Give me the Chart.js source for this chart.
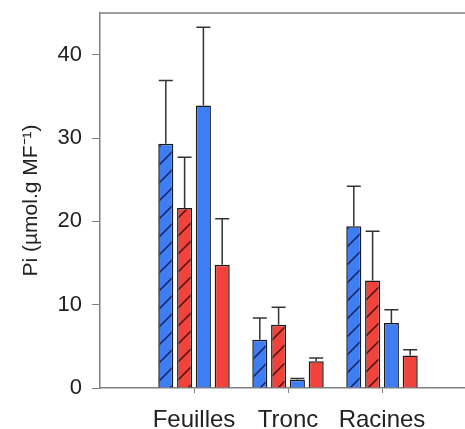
<!DOCTYPE html>
<html>
<head>
<meta charset="utf-8">
<script src="https://cdn.jsdelivr.net/npm/chart.js@4/dist/chart.umd.min.js"></script>
<style>
    html, body { margin: 0; padding: 0; background: #fff; overflow: hidden; }
    #wrap { width: 480px; height: 429px; }
</style>
</head>
<body>
<div id="wrap"><canvas id="grafico" width="480" height="429"></canvas></div>
<script>
const categories = ['Feuilles', 'Tronc', 'Racines'];

// moyennes et erreurs (barre du haut seulement)
const bleuHachure = [29.3, 5.8, 19.4];
const bleuHachureErr = [7.6, 2.6, 4.8];
const rougeHachure = [21.6, 7.6, 12.9];
const rougeHachureErr = [6.1, 2.1, 5.9];
const bleuPlein = [33.9, 1.0, 7.8];
const bleuPleinErr = [9.4, 0.15, 1.6];
const rougePlein = [14.8, 3.2, 3.9];
const rougePleinErr = [5.5, 0.4, 0.7];

const yTicks = [0, 10, 20, 30, 40];

const BLEU = '#3f7ef2';
const ROUGE = '#f2423c';
const fonte = '"Liberation Sans", Arial, sans-serif';

function hachures(fond, trait) {
    const size = 18;
    const c = document.createElement('canvas');
    c.width = size;
    c.height = size;
    const g = c.getContext('2d');
    g.fillStyle = fond;
    g.fillRect(0, 0, size, size);
    g.strokeStyle = trait;
    g.lineWidth = 1.5;
    g.beginPath();
    g.moveTo(-2, size + 2);
    g.lineTo(size + 2, -2);
    g.moveTo(-2, 2);
    g.lineTo(2, -2);
    g.moveTo(size - 2, size + 2);
    g.lineTo(size + 2, size - 2);
    g.stroke();
    return g.createPattern(c, 'repeat');
}

// une categorie vide de chaque cote pour garder la meme echelle que l'original
const labels = [''].concat(categories).concat(['']);
function pad(arr) {
    return [null].concat(arr).concat([null]);
}

const series = [
    { data: bleuHachure, err: bleuHachureErr, bg: hachures(BLEU, '#15205a') },
    { data: rougeHachure, err: rougeHachureErr, bg: hachures(ROUGE, '#4a0f0f') },
    { data: bleuPlein, err: bleuPleinErr, bg: BLEU },
    { data: rougePlein, err: rougePleinErr, bg: ROUGE }
];

const barresErreur = {
    id: 'barresErreur',
    afterDatasetsDraw(chart) {
        const ctx = chart.ctx;
        const yScale = chart.scales.y;
        ctx.save();
        ctx.strokeStyle = '#333';
        ctx.lineWidth = 1.5;
        chart.data.datasets.forEach((ds, i) => {
            const meta = chart.getDatasetMeta(i);
            meta.data.forEach((bar, j) => {
                const v = ds.data[j];
                if (v === null) return;
                const e = ds.erreurs[j];
                const yTop = yScale.getPixelForValue(v + e);
                ctx.beginPath();
                ctx.moveTo(bar.x, bar.y);
                ctx.lineTo(bar.x, yTop);
                ctx.moveTo(bar.x - 7, yTop);
                ctx.lineTo(bar.x + 7, yTop);
                ctx.stroke();
            });
        });
        // ligne du haut du cadre
        const a = chart.chartArea;
        ctx.strokeStyle = '#808080';
        ctx.beginPath();
        ctx.moveTo(a.left, a.top);
        ctx.lineTo(a.right, a.top);
        ctx.stroke();
        ctx.restore();
    }
};

const ctx = document.getElementById('grafico').getContext('2d');
const chart = new Chart(ctx, {
    type: 'bar',
    data: {
        labels: labels,
        datasets: series.map(s => ({
            data: pad(s.data),
            erreurs: pad(s.err),
            backgroundColor: s.bg,
            borderColor: '#1a1a1a',
            borderWidth: 1.5,
            barPercentage: 0.8,
            categoryPercentage: 0.8
        }))
    },
    options: {
        responsive: false,
        animation: false,
        layout: { padding: { top: 13, right: 4, left: 0, bottom: 0 } },
        plugins: {
            legend: { display: false },
            tooltip: { enabled: false }
        },
        scales: {
            x: {
                offset: false,
                grid: {
                    offset: false,
                    drawOnChartArea: false,
                    drawTicks: true,
                    tickLength: 5,
                    color: c => (c.index >= 1 && c.index <= 3) ? '#808080' : 'rgba(0,0,0,0)'
                },
                border: { color: '#808080', width: 1.5 },
                ticks: {
                    autoSkip: false,
                    maxRotation: 0,
                    padding: 13,
                    color: '#222',
                    font: { family: fonte, size: 24 }
                },
                afterFit: s => {
                    s.height = 41;
                    s.paddingLeft = 0;
                    s.paddingRight = 0;
                }
            },
            y: {
                min: 0,
                max: 45,
                afterBuildTicks: s => { s.ticks = yTicks.map(v => ({ value: v })); },
                grid: {
                    drawOnChartArea: false,
                    drawTicks: true,
                    tickLength: 8,
                    color: '#808080'
                },
                border: { color: '#808080', width: 1.5 },
                ticks: {
                    padding: 10,
                    color: '#222',
                    font: { family: fonte, size: 22 }
                },
                title: {
                    display: true,
                    text: 'Pi (µmol.g MF⁻¹)',
                    color: '#222',
                    font: { family: fonte, size: 21 },
                    padding: { top: 19, bottom: 0 }
                },
                afterFit: s => {
                    s.width = 100;
                    s.paddingTop = 0;
                    s.paddingBottom = 0;
                }
            }
        }
    },
    plugins: [barresErreur]
});
</script>
</body>
</html>
